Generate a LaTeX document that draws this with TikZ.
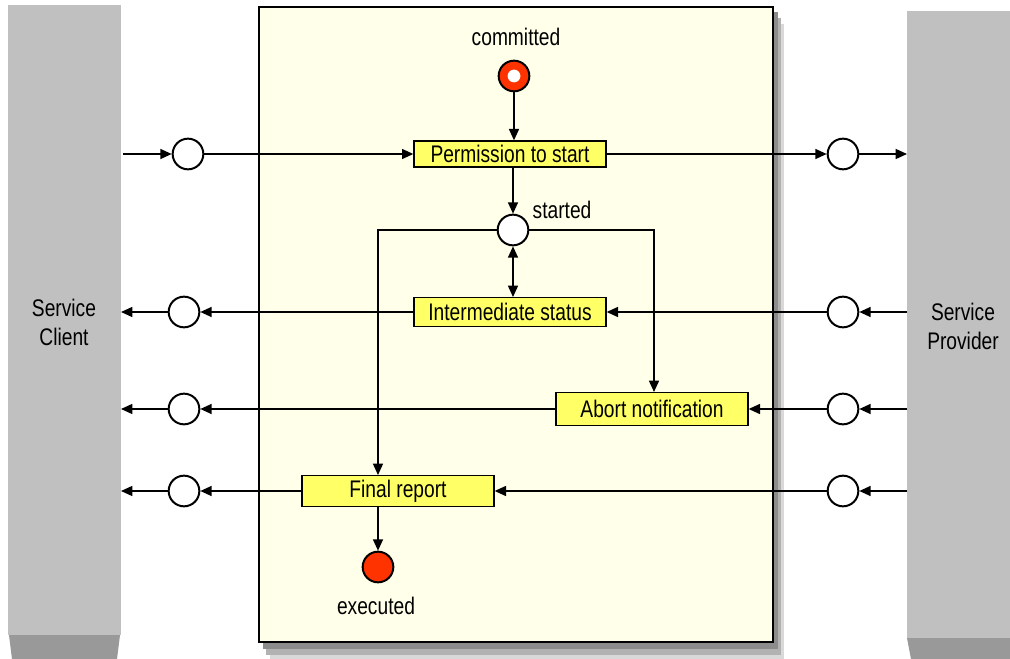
\documentclass[tikz,border=0pt]{standalone}
\usepackage{fontspec}
\setmainfont{Liberation Sans}[FakeStretch=0.8]
\usetikzlibrary{arrows.meta}

\definecolor{stred}{HTML}{FF3300}
\definecolor{msgyellow}{HTML}{FFFF66}
\definecolor{pane}{HTML}{FFFFEA}
\definecolor{barlight}{HTML}{C0C0C0}
\definecolor{bardark}{HTML}{999999}

\tikzset{
  msg/.style={draw=black, fill=msgyellow, line width=1pt, minimum width=144pt, minimum height=21pt, inner sep=0pt},
  port/.style={circle, draw=black, fill=white, line width=1.5pt, minimum size=23pt, inner sep=0pt},
  state/.style={circle, draw=black, fill=stred, line width=1.5pt, minimum size=23pt, inner sep=0pt},
  flow/.style={line width=1.1pt, -{Triangle[length=8.5pt,width=7.5pt]}},
  lbl/.style={align=center},
}

\begin{document}
\begin{tikzpicture}[every node/.style={font=\fontsize{18}{21.75}\selectfont}]
\begin{scope}[x=0.75pt,y=-0.75pt]
\useasboundingbox (0,0) rectangle (1010,659);

% client and provider bars
\fill[barlight] (8,5) rectangle (121,635);
\fill[bardark] (9,635) -- (120,635) -- (117,659) -- (12,659) -- cycle;
\fill[barlight] (907,11) rectangle (1010,638);
\fill[bardark] (907,638) -- (1010,638) -- (1010,659) -- (911,659) -- cycle;
\node[lbl] (client) at (64,322) {Service\\Client};
\node[lbl] (provider) at (963,326) {Service\\Provider};

% service pane with its shadow
\fill[gray!30] (270,24) rectangle (784,659);
\fill[gray!60] (266,18) rectangle (781,655);
\fill[gray!90] (263,12) rectangle (778,649);
\draw[fill=pane, line width=1.5pt] (259,7) rectangle (773,642);

% states
\node (committed-lbl) at (516,37) {committed};
\node[state] (committed) at (514,76) {};
\fill[white] (committed) circle[radius=4.8pt];
\node[port] (started) at (513,230) {};
\node (started-lbl) at (562,210) {started};
\node[state] (executed) at (378,567) {};
\node (executed-lbl) at (376,606) {executed};

% messages
\node[msg, minimum height=19.5pt] (perm) at (510,154) {Permission to start};
\node[msg, minimum height=21.5pt] (inter) at (510,312) {Intermediate status};
\node[msg, minimum height=24.5pt] (abort) at (652,409) {Abort notification};
\node[msg, minimum height=23pt] (final) at (398,491) {Final report};

% ports
\node[port] (pl1) at (188,154) {};
\node[port] (pl2) at (184,312) {};
\node[port] (pl3) at (184,409) {};
\node[port] (pl4) at (184,491) {};
\node[port] (pr1) at (843,154) {};
\node[port] (pr2) at (843,312) {};
\node[port] (pr3) at (843,409) {};
\node[port] (pr4) at (843,491) {};

% bar edges
\coordinate (cl1) at (123,154);
\coordinate (cl2) at (121,312);
\coordinate (cl3) at (121,409);
\coordinate (cl4) at (121,491);
\coordinate (cr1) at (907,154);
\coordinate (cr2) at (907,312);
\coordinate (cr3) at (907,409);
\coordinate (cr4) at (907,491);

% state flow
\draw[flow] (committed) -- (committed |- perm.north);
\draw[flow] (perm.south -| started) -- (started);
\draw[flow, {Triangle[length=8.5pt,width=7.5pt]}-{Triangle[length=8.5pt,width=7.5pt]}] (started) -- (started |- inter.north);
\draw[flow] (started) -| ([xshift=-15pt]final.north);
\draw[flow] (started) -| ([xshift=1.5pt]abort.north);
\draw[flow] ([xshift=-15pt]final.south) -- (executed);

% messages across
\draw[flow] (cl1) -- (pl1);
\draw[flow] (pl1) -- (perm);
\draw[flow] (perm) -- (pr1);
\draw[flow] (pr1) -- (cr1);
\foreach \r/\m in {2/inter,3/abort,4/final} {
  \draw[flow] (cr\r) -- (pr\r);
  \draw[flow] (pr\r) -- (\m);
  \draw[flow] (\m) -- (pl\r);
  \draw[flow] (pl\r) -- (cl\r);
}

\end{scope}
\end{tikzpicture}
\end{document}
